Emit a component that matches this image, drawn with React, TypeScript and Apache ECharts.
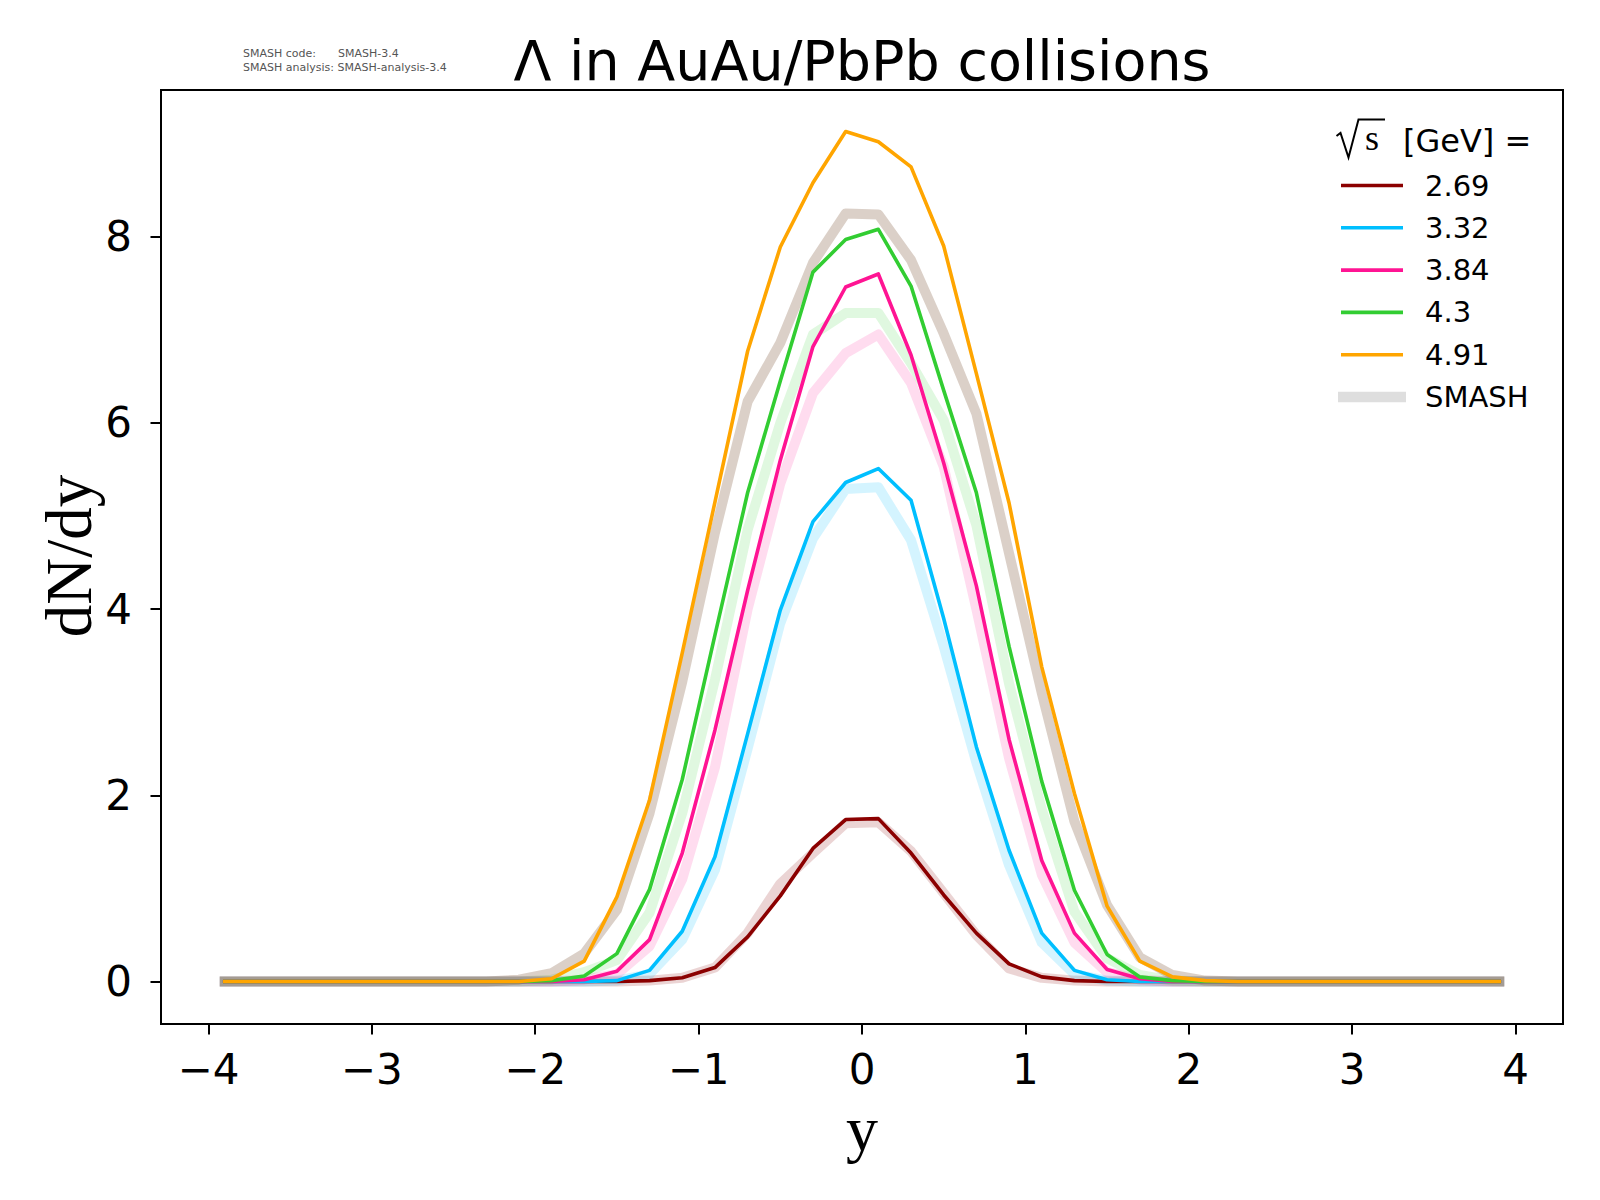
import React, { useEffect, useRef } from "react";
import * as echarts from "echarts";

const yBins = [
  -3.9, -3.7, -3.5, -3.3, -3.1, -2.9, -2.7, -2.5, -2.3,
  -2.1, -1.9, -1.7, -1.5, -1.3, -1.1, -0.9, -0.7, -0.5, -0.3, -0.1,
  0.1, 0.3, 0.5, 0.7, 0.9, 1.1, 1.3, 1.5, 1.7, 1.9, 2.1,
  2.3, 2.5, 2.7, 2.9, 3.1, 3.3, 3.5, 3.7, 3.9,
];

const energies = ["2.69", "3.32", "3.84", "4.3", "4.91"];
const lineColors = ["#8b0000", "#00bfff", "#ff1493", "#32cd32", "#ffa500"];
const bandColors = [
  "rgba(139,0,0,0.17)",
  "rgba(0,191,255,0.17)",
  "rgba(255,20,147,0.15)",
  "rgba(50,205,50,0.15)",
  "rgba(120,80,50,0.265)",
];

const exp269 = [0, 0, 0, 0, 0, 0, 0, 0, 0,
  0, 0, 0, 0, 0.01, 0.04, 0.15, 0.48, 0.92, 1.43, 1.74,
  1.75, 1.38, 0.93, 0.52, 0.19, 0.05, 0.01, 0, 0, 0, 0,
  0, 0, 0, 0, 0, 0, 0, 0, 0];
const exp332 = [0, 0, 0, 0, 0, 0, 0, 0, 0,
  0, 0, 0, 0.01, 0.12, 0.54, 1.34, 2.66, 3.99, 4.94, 5.36,
  5.51, 5.17, 3.9, 2.52, 1.41, 0.52, 0.12, 0.02, 0, 0, 0,
  0, 0, 0, 0, 0, 0, 0, 0, 0];
const exp384 = [0, 0, 0, 0, 0, 0, 0, 0, 0,
  0, 0, 0.02, 0.11, 0.45, 1.38, 2.7, 4.2, 5.6, 6.82, 7.46,
  7.6, 6.73, 5.57, 4.25, 2.6, 1.3, 0.52, 0.13, 0.03, 0, 0,
  0, 0, 0, 0, 0, 0, 0, 0, 0];
const exp430 = [0, 0, 0, 0, 0, 0, 0, 0, 0,
  0, 0.01, 0.06, 0.3, 0.99, 2.17, 3.72, 5.25, 6.45, 7.62, 7.97,
  8.08, 7.47, 6.35, 5.25, 3.6, 2.15, 0.98, 0.29, 0.05, 0.01, 0,
  0, 0, 0, 0, 0, 0, 0, 0, 0];
const exp491 = [0, 0, 0, 0, 0, 0, 0, 0, 0,
  0, 0.03, 0.22, 0.91, 1.95, 3.53, 5.15, 6.77, 7.89, 8.58, 9.13,
  9.02, 8.75, 7.9, 6.53, 5.14, 3.38, 2.02, 0.81, 0.22, 0.05, 0.01,
  0, 0, 0, 0, 0, 0, 0, 0, 0];

const smash269 = [0, 0, 0, 0, 0, 0, 0, 0, 0,
  0, 0, 0, 0, 0.01, 0.04, 0.15, 0.52, 1.05, 1.38, 1.7,
  1.71, 1.4, 0.95, 0.5, 0.14, 0.04, 0.01, 0, 0, 0, 0,
  0, 0, 0, 0, 0, 0, 0, 0, 0];
const smash332 = [0, 0, 0, 0, 0, 0, 0, 0, 0,
  0, 0, 0, 0.01, 0.08, 0.45, 1.2, 2.5, 3.85, 4.76, 5.29,
  5.31, 4.74, 3.6, 2.35, 1.25, 0.42, 0.08, 0.01, 0, 0, 0,
  0, 0, 0, 0, 0, 0, 0, 0, 0];
const smash384 = [0, 0, 0, 0, 0, 0, 0, 0, 0,
  0, 0, 0.02, 0.08, 0.38, 1.1, 2.3, 4.0, 5.35, 6.32, 6.75,
  6.95, 6.43, 5.53, 4.0, 2.4, 1.15, 0.42, 0.1, 0.02, 0, 0,
  0, 0, 0, 0, 0, 0, 0, 0, 0];
const smash430 = [0, 0, 0, 0, 0, 0, 0, 0, 0,
  0, 0.02, 0.1, 0.23, 0.74, 1.81, 3.24, 4.85, 6.0, 6.95, 7.18,
  7.18, 6.64, 6.03, 4.9, 3.2, 1.85, 0.75, 0.25, 0.07, 0.01, 0,
  0, 0, 0, 0, 0, 0, 0, 0, 0];
const smash491 = [0, 0, 0, 0, 0, 0, 0, 0, 0,
  0.02, 0.09, 0.3, 0.77, 1.81, 3.22, 4.82, 6.23, 6.86, 7.72, 8.25,
  8.24, 7.75, 6.96, 6.1, 4.6, 3.1, 1.72, 0.82, 0.26, 0.07, 0.01,
  0, 0, 0, 0, 0, 0, 0, 0, 0];

const expData = [exp269, exp332, exp384, exp430, exp491];
const smashData = [smash269, smash332, smash384, smash430, smash491];

const xTicks = [-4, -3, -2, -1, 0, 1, 2, 3, 4];
const yTicks = [0, 2, 4, 6, 8];

const SANS = "DejaVu Sans";
const SERIF = "Liberation Serif";

export default function App() {
  const ref = useRef<HTMLDivElement>(null);

  useEffect(() => {
    document.body.style.margin = "0";
    if (!ref.current) return;
    const chart = echarts.init(ref.current, undefined, { renderer: "svg" });

    const toPairs = (arr: number[]) => yBins.map((x, i) => [x, arr[i]]);

    const series: any[] = [];
    smashData.forEach((arr, k) => {
      series.push({
        name: "SMASH " + energies[k],
        type: "line",
        data: toPairs(arr),
        symbol: "none",
        silent: true,
        lineStyle: { color: bandColors[k], width: 10, cap: "square", join: "round" },
        z: 2,
      });
    });
    expData.forEach((arr, k) => {
      series.push({
        name: energies[k],
        type: "line",
        data: toPairs(arr),
        symbol: "none",
        silent: true,
        lineStyle: { color: lineColors[k], width: 3.6, cap: "square", join: "round" },
        z: 3,
      });
    });

    const legX1 = 1341;
    const legX2 = 1403;
    const legTextX = 1425;
    const legY0 = 185.5;
    const legDy = 42.3;

    const graphics: any[] = [];
    graphics.push({
      type: "text",
      x: 862,
      y: 60,
      style: {
        text: "Λ in AuAu/PbPb collisions",
        fontSize: 55.5,
        fontFamily: SANS,
        fill: "#000",
        textAlign: "center",
        textVerticalAlign: "middle",
      },
    });
    const info = { fontSize: 11, fontFamily: SANS, fill: "#555", textAlign: "left", textVerticalAlign: "middle" };
    graphics.push({ type: "text", x: 243, y: 53, style: { ...info, text: "SMASH code:" } });
    graphics.push({ type: "text", x: 338, y: 53, style: { ...info, text: "SMASH-3.4" } });
    graphics.push({ type: "text", x: 243, y: 67.5, style: { ...info, text: "SMASH analysis: SMASH-analysis-3.4" } });

    graphics.push({
      type: "text", x: 69, y: 556, rotation: Math.PI / 2,
      style: { text: "dN/dy", fontSize: 65, fontFamily: SERIF, fill: "#000", textAlign: "center", textVerticalAlign: "middle" },
    });
    graphics.push({
      type: "text", x: 862, y: 1128,
      style: { text: "y", fontSize: 64, fontFamily: SERIF, fill: "#000", textAlign: "center", textVerticalAlign: "middle" },
    });
    // legend title: sqrt(s) [GeV] =
    graphics.push({
      type: "polyline",
      shape: { points: [[1336.5, 136], [1340.5, 133], [1348.5, 157.5], [1358.5, 119.5], [1385, 119.5]] },
      style: { stroke: "#000", lineWidth: 2, fill: "none", lineJoin: "miter" },
    });
    graphics.push({
      type: "text", x: 1372, y: 138,
      style: { text: "s", fontSize: 36, fontFamily: SERIF, fill: "#000", textAlign: "center", textVerticalAlign: "middle" },
    });
    graphics.push({
      type: "text", x: 1403, y: 141,
      style: { text: "[GeV] =", fontSize: 32, fontFamily: SANS, fill: "#000", textAlign: "left", textVerticalAlign: "middle" },
    });
    energies.forEach((e, k) => {
      const y = legY0 + k * legDy;
      graphics.push({
        type: "line",
        shape: { x1: legX1, y1: y, x2: legX2, y2: y },
        style: { stroke: lineColors[k], lineWidth: 3.6 },
      });
      graphics.push({
        type: "text", x: legTextX, y,
        style: { text: e, fontSize: 29, fontFamily: SANS, fill: "#000", textAlign: "left", textVerticalAlign: "middle" },
      });
    });
    {
      const y = legY0 + 5 * legDy;
      graphics.push({
        type: "line",
        shape: { x1: legX1 - 3, y1: y, x2: legX2 + 3, y2: y },
        style: { stroke: "#dedede", lineWidth: 10.5 },
      });
      graphics.push({
        type: "text", x: legTextX, y,
        style: { text: "SMASH", fontSize: 29, fontFamily: SANS, fill: "#000", textAlign: "left", textVerticalAlign: "middle" },
      });
    }

    const fmt = (v: number) => (v < 0 ? "\u2212" + Math.abs(v) : String(v));

    chart.setOption({
      animation: false,
      backgroundColor: "#fff",
      grid: {
        left: 161,
        top: 90,
        width: 1402,
        height: 934,
        show: true,
        borderColor: "#000",
        borderWidth: 2,
        containLabel: false,
      },
      xAxis: {
        type: "value",
        min: -4.29,
        max: 4.29,
        splitLine: { show: false },
        axisLine: { show: true, onZero: false, lineStyle: { color: "#000", width: 2 } },
        axisTick: {
          show: true,
          inside: false,
          length: 10.5,
          lineStyle: { color: "#000", width: 2 },
          customValues: xTicks,
        },
        axisLabel: {
          show: true,
          fontSize: 42,
          fontFamily: SANS,
          color: "#000",
          margin: 24,
          customValues: xTicks,
          formatter: fmt,
        },
      },
      yAxis: {
        type: "value",
        min: -0.456,
        max: 9.576,
        splitLine: { show: false },
        axisLine: { show: true, onZero: false, lineStyle: { color: "#000", width: 2 } },
        axisTick: {
          show: true,
          inside: false,
          length: 10.5,
          lineStyle: { color: "#000", width: 2 },
          customValues: yTicks,
        },
        axisLabel: {
          show: true,
          fontSize: 42,
          fontFamily: SANS,
          color: "#000",
          margin: 29,
          customValues: yTicks,
          formatter: fmt,
        },
      },
      series,
      graphic: { elements: graphics },
    });

    return () => {
      chart.dispose();
    };
  }, []);

  return <div ref={ref} style={{ width: 1600, height: 1200 }} />;
}
